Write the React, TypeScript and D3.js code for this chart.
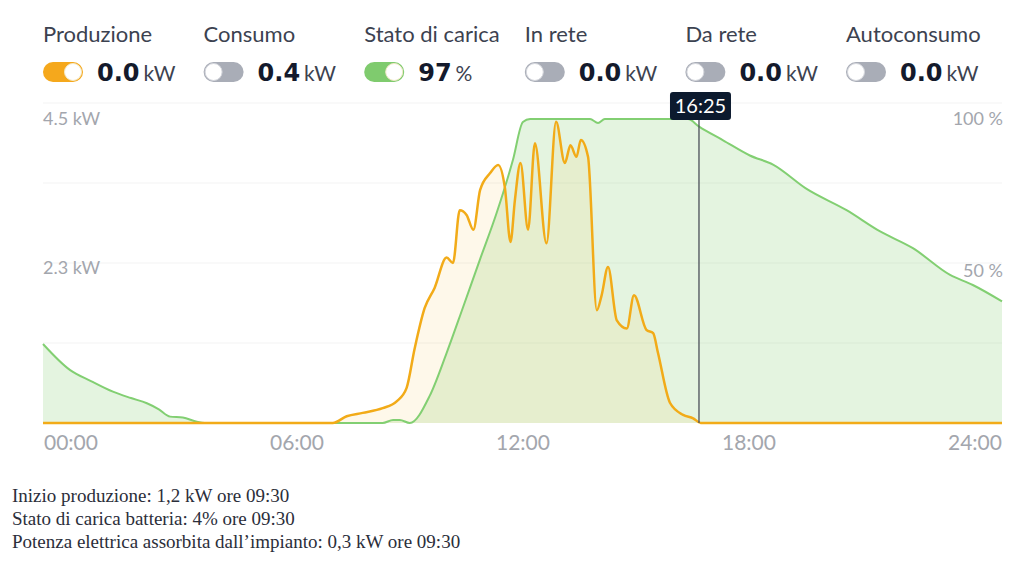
import React from "react";
import * as d3 from "d3";

// legend
const legendNames = ["Produzione", "Consumo", "Stato di carica", "In rete", "Da rete", "Autoconsumo"];
const legendValues = ["0.0", "0.4", "97", "0.0", "0.0", "0.0"];
const legendUnits = ["kW", "kW", "%", "kW", "kW", "kW"];
const legendOn = [true, false, true, false, false, false];
const legendColors = ["#f5a81c", "#a9adb7", "#7fcb6e", "#a9adb7", "#a9adb7", "#a9adb7"];

// produzione (kW) per ora del giorno
const prodHours = [0, 7.25, 7.6, 8.0, 8.5, 8.85, 9.1, 9.3, 9.55, 9.8, 10.1, 10.26, 10.43, 10.6, 10.77, 10.94, 11.19, 11.39, 11.56, 11.7, 11.81, 11.95, 12.14, 12.31, 12.6, 12.84, 13.06, 13.2, 13.35, 13.46, 13.64, 13.86, 13.98, 14.14, 14.36, 14.61, 14.79, 15.1, 15.27, 15.39, 15.69, 16.02, 16.27, 16.46, 24];
const prodKw = [0, 0, 0.1, 0.15, 0.22, 0.32, 0.52, 1.1, 1.7, 2.0, 2.45, 2.37, 3.15, 3.08, 2.86, 3.45, 3.7, 3.82, 3.48, 2.68, 3.3, 3.85, 2.86, 4.14, 2.66, 4.46, 3.85, 4.11, 3.94, 4.19, 3.94, 1.67, 1.89, 2.31, 1.52, 1.4, 1.89, 1.38, 1.33, 1.04, 0.3, 0.12, 0.07, 0, 0];

// stato di carica batteria (%)
const socHours = [0, 0.68, 1.2, 1.75, 2.2, 2.6, 2.9, 3.18, 3.5, 3.85, 4.05, 8.5, 8.76, 8.93, 9.18, 9.68, 10.1, 10.51, 10.93, 11.35, 11.76, 12.01, 12.19, 13.69, 13.89, 14.06, 16.14, 16.42, 17.02, 17.69, 18.27, 19.11, 20.11, 20.95, 21.77, 22.7, 23.27, 24];
const socPct = [26, 17.4, 13.8, 10.3, 8.2, 6.5, 4.5, 2.1, 1.8, 0.4, 0, 0, 1, 1, 0, 9, 23, 38, 53.6, 69, 86.5, 99, 100, 100, 98.7, 100, 100, 97.5, 93, 88, 85, 77, 70, 63, 57.5, 48.7, 45.4, 40];

const xTickLabels = ["00:00", "06:00", "12:00", "18:00", "24:00"];
const kwTicks = [4.5, 2.3];
const pctTicks = [100, 50];
const gridSteps = [1, 2, 3, 4];
const cursorHour = 16 + 25 / 60;
const cursorLabel = "16:25";

const notes = [
  "Inizio produzione: 1,2 kW ore 09:30",
  "Stato di carica batteria: 4% ore 09:30",
  "Potenza elettrica assorbita dall\u2019impianto: 0,3 kW ore 09:30",
];

const App = () => {
  const W = 1024, H = 575;
  const left = 43, right = 1002, bottom = 423, top = 119;

  const x = d3.scaleLinear().domain([0, 24]).range([left, right]);
  const yKw = d3.scaleLinear().domain([0, 4.5]).range([bottom, top]);
  const yPct = d3.scaleLinear().domain([0, 100]).range([bottom, top]);
  const yGrid = d3.scaleLinear().domain([0, 4]).range([bottom, 103]);
  const xLab = d3.scalePoint<string>().domain(xTickLabels).range([71, 975]);
  const legendX = d3.scalePoint<string>().domain(legendNames).range([43, 846]);

  const prod = prodHours.map((h, i) => ({h, v: prodKw[i]}));
  const soc = socHours.map((h, i) => ({h, v: socPct[i]}));

  const prodLine = d3.line<any>().x(d => x(d.h)).y(d => yKw(d.v)).curve(d3.curveMonotoneX);
  const prodArea = d3.area<any>().x(d => x(d.h)).y0(bottom).y1(d => yKw(d.v)).curve(d3.curveMonotoneX);
  const socLine = d3.line<any>().x(d => x(d.h)).y(d => yPct(d.v)).curve(d3.curveMonotoneX);
  const socArea = d3.area<any>().x(d => x(d.h)).y0(bottom).y1(d => yPct(d.v)).curve(d3.curveMonotoneX);

  const sans = "Lato, 'Noto Sans', sans-serif";
  const cx = x(cursorHour);

  return (
    <svg width={W} height={H} style={{position: "absolute", left: 0, top: 0, background: "#fff"}}>
      {/* legenda */}
      {legendNames.map((name, i) => {
        const lx = legendX(name) as number;
        const on = legendOn[i];
        return (
          <g key={name}>
            <text x={lx} y={42} fontFamily={sans} fontSize={22} fill="#3c4250">{name}</text>
            <rect x={lx} y={62} width={40} height={20} rx={10} fill={legendColors[i]}/>
            <circle cx={on ? lx + 30 : lx + 10} cy={72} r={8.5} fill="#fff" stroke={on ? "#f3e9c8" : "#d4d6dc"} strokeWidth={1}/>
            <text x={lx + 54} y={81} fontFamily="'DejaVu Sans', sans-serif" fontWeight="bold" fontSize={24} fill="#141a2c">
              {legendValues[i]}
              <tspan dx={4} fontFamily={sans} fontWeight="normal" fontSize={21} fill="#3c4250">{legendUnits[i]}</tspan>
            </text>
          </g>
        );
      })}

      {/* griglia */}
      {gridSteps.map(g => (
        <line key={g} x1={left} x2={right} y1={yGrid(g)} y2={yGrid(g)} stroke="#f3f3f3" strokeWidth={1}/>
      ))}

      {/* aree */}
      <path d={socArea(soc) || ""} fill="rgba(120,200,100,0.2)"/>
      <path d={prodArea(prod) || ""} fill="rgba(245,200,80,0.12)"/>
      <path d={socLine(soc) || ""} fill="none" stroke="#82cf72" strokeWidth={2}/>
      <path d={prodLine(prod) || ""} fill="none" stroke="#f2ab18" strokeWidth={2.5}/>

      {/* etichette assi */}
      {kwTicks.map(t => (
        <text key={t} x={left} y={yKw(t)} dy="0.35em" fontFamily={sans} fontSize={18} fill="#a3a6ad">{t.toFixed(1)} kW</text>
      ))}
      {pctTicks.map(t => (
        <text key={t} x={right + 1} y={yPct(t)} dy="0.35em" textAnchor="end" fontFamily={sans} fontSize={18} fill="#a3a6ad">{t} %</text>
      ))}
      {xTickLabels.map(l => (
        <text key={l} x={xLab(l)} y={443} dy="0.35em" textAnchor="middle" fontFamily={sans} fontSize={21} fill="#a3a6ad">{l}</text>
      ))}

      {/* cursore */}
      <line x1={cx} x2={cx} y1={120} y2={bottom} stroke="#4a4f58" strokeWidth={1.3}/>
      <rect x={cx - 29} y={92} width={61} height={28} rx={3} fill="#0c1a2e"/>
      <text x={cx + 1.5} y={106} dy="0.36em" textAnchor="middle" fontFamily={sans} fontSize={20} fill="#fff">{cursorLabel}</text>

      {/* note */}
      {notes.map((n, i) => (
        <text key={i} x={12} y={502 + i * 23} fontFamily="'Liberation Serif', 'Times New Roman', serif" fontSize={19} fill="#2b2e3a">{n}</text>
      ))}
    </svg>
  );
};

export default App;
